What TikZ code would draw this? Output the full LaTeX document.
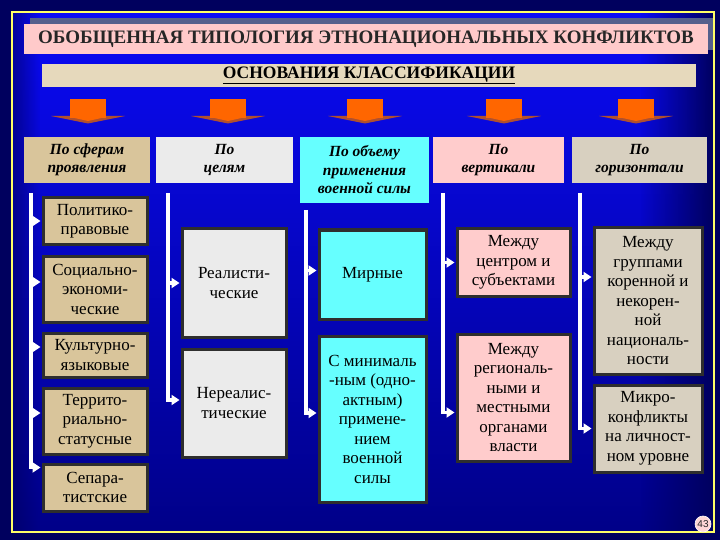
\documentclass[tikz,border=0pt]{standalone}
\usepackage{fontspec}
\setmainfont{Liberation Serif}
\setsansfont{Liberation Sans}
\usetikzlibrary{arrows.meta,fadings}
\definecolor{outerbg}{HTML}{00005E}
\definecolor{bgtop}{HTML}{0A0AF6}
\definecolor{bgmid}{HTML}{0000DC}
\definecolor{bgbot}{HTML}{000088}
\definecolor{frameyel}{HTML}{FFFF66}
\definecolor{titlepink}{HTML}{FFCACA}
\definecolor{barblue}{HTML}{55608C}
\definecolor{subbeige}{HTML}{E6D9BC}
\definecolor{tanbox}{HTML}{D9C59B}
\definecolor{graybox}{HTML}{EBEBEB}
\definecolor{cyanbox}{HTML}{66FFFF}
\definecolor{pinkbox}{HTML}{FFCCCC}
\definecolor{linenbox}{HTML}{D8D0C0}
\definecolor{boxborder}{HTML}{2E2E2E}
\definecolor{txtdark}{HTML}{262626}
\definecolor{arrorange}{HTML}{FF6600}
\definecolor{arrshadow}{HTML}{B0502E}
\tikzfading[name=fadeleftclear, left color=transparent!100, right color=transparent!0]
\tikzfading[name=faderightclear, left color=transparent!0, right color=transparent!100]
\begin{document}
\begin{tikzpicture}[x=1pt,y=-1pt,
  hdr/.style={inner sep=1pt, align=center, text=black,
    font=\fontsize{15.5}{18.5}\selectfont\bfseries\itshape},
  item/.style={draw=boxborder, line width=3pt, inner sep=1pt, align=center,
    text=black, font=\fontsize{17}{19.5}\selectfont},
  conn/.style={draw=white, line width=3.5pt,
    -{Triangle[length=8pt,width=10pt]}, shorten >=1pt}]
\useasboundingbox (0,0) rectangle (720,540);
% background
\fill[outerbg] (0,0) rectangle (720,540);
\shade[top color=bgtop, middle color=bgmid, bottom color=bgbot] (12,12) rectangle (714,532);
\fill[outerbg, path fading=fadeleftclear] (640,12) rectangle (714,532);
\fill[outerbg, opacity=0.6, path fading=faderightclear] (12,12) rectangle (40,532);
\draw[frameyel, line width=2pt] (12,12) rectangle (714,532);
% title
\fill[barblue] (30,18) rectangle (713,50);
\node[fill=titlepink, minimum width=684pt, minimum height=30pt, inner sep=0pt,
  text=txtdark, font=\fontsize{19}{22}\selectfont\bfseries] (title) at (366,39)
  {ОБОБЩЕННАЯ ТИПОЛОГИЯ ЭТНОНАЦИОНАЛЬНЫХ КОНФЛИКТОВ};
\node[fill=subbeige, minimum width=654pt, minimum height=23pt, inner sep=0pt,
  text=black, font=\fontsize{17.5}{20}\selectfont\bfseries] (sub) at (369,75.5)
  {\underline{ОСНОВАНИЯ КЛАССИФИКАЦИИ}};
% orange arrows
\foreach \cx in {88,228,365,504,636}{
  \fill[arrshadow] (\cx-37,116) -- (\cx+37,116) -- (\cx,123.5) -- cycle;
  \fill[arrorange] (\cx-18,99) rectangle (\cx+18,118);
  \fill[arrorange] (\cx-18,117) -- (\cx+18,117) -- (\cx,121) -- cycle;
}
% headers
\node[hdr, fill=tanbox, minimum width=126pt, minimum height=46pt] (h1) at (87,160) {По сферам\\проявления};
\node[hdr, fill=graybox, minimum width=137pt, minimum height=46pt] (h2) at (224.5,160) {По\\целям};
\node[hdr, fill=cyanbox, minimum width=129pt, minimum height=66pt] (h3) at (364.5,170) {По объему\\применения\\военной силы};
\node[hdr, fill=pinkbox, minimum width=131pt, minimum height=46pt] (h4) at (498.5,160) {По\\вертикали};
\node[hdr, fill=linenbox, minimum width=135pt, minimum height=46pt] (h5) at (639.5,160) {По\\горизонтали};
% column 1
\node[item, fill=tanbox, minimum width=104pt, minimum height=46pt] (b11) at (95,221) {Политико-\\правовые};
\node[item, fill=tanbox, minimum width=104pt, minimum height=66pt] (b12) at (95,289) {Социально-\\экономи-\\ческие};
\node[item, fill=tanbox, minimum width=104pt, minimum height=44pt] (b13) at (95,355) {Культурно-\\языковые};
\node[item, fill=tanbox, minimum width=104pt, minimum height=66pt] (b14) at (95,421) {Террито-\\риально-\\статусные};
\node[item, fill=tanbox, minimum width=104pt, minimum height=47pt] (b15) at (95,487.5) {Сепара-\\тистские};
% column 2
\node[item, fill=graybox, minimum width=104pt, minimum height=108pt] (b21) at (234,283) {Реалисти-\\ческие};
\node[item, fill=graybox, minimum width=104pt, minimum height=108pt] (b22) at (234,403) {Нереалис-\\тические};
% column 3
\node[item, fill=cyanbox, minimum width=107pt, minimum height=89pt] (b31) at (372.5,274.5) {Мирные};
\node[item, fill=cyanbox, minimum width=107pt, minimum height=166pt] (b32) at (372.5,419) {С минималь\\-ным (одно-\\актным)\\примене-\\нием\\военной\\силы};
% column 4
\node[item, fill=pinkbox, minimum width=113pt, minimum height=67pt] (b41) at (513.5,262.5) {Между\\центром и\\субъектами};
\node[item, fill=pinkbox, minimum width=113pt, minimum height=127pt] (b42) at (513.5,397.5) {Между\\региональ-\\ными и\\местными\\органами\\власти};
% column 5
\node[item, fill=linenbox, minimum width=108pt, minimum height=146pt] (b51) at (648,301) {Между\\группами\\коренной и\\некорен-\\ной\\националь-\\ности};
\node[item, fill=linenbox, minimum width=108pt, minimum height=87pt] (b52) at (648,428.5) {Микро-\\конфликты\\на личност-\\ном уровне};
% trunk tops
\coordinate (t1) at (31,193);
\coordinate (t2) at (168,193);
\coordinate (t3) at (306,210);
\coordinate (t4) at (443,193);
\coordinate (t5) at (580,193);
% arrow end points on box edges
\coordinate (e11) at (b11.west);
\coordinate (e12) at ([yshift=7pt]b12.west);
\coordinate (e13) at ([yshift=8pt]b13.west);
\coordinate (e14) at ([yshift=8pt]b14.west);
\coordinate (e15) at ([yshift=20pt]b15.west);
\coordinate (e21) at (b21.west);
\coordinate (e22) at ([yshift=3pt]b22.west);
\coordinate (e31) at ([yshift=4pt]b31.west);
\coordinate (e32) at ([yshift=6pt]b32.west);
\coordinate (e41) at (b41.west);
\coordinate (e42) at ([yshift=-15pt]b42.west);
\coordinate (e51) at ([yshift=24pt]b51.west);
\coordinate (e52) at (b52.west);
% connectors column 1
\draw[conn] (t1) |- (e15);
\foreach \e in {e11,e12,e13,e14}{\draw[conn] (t1 |- \e) -- (\e);}
% column 2
\draw[conn] (t2) |- (e22);
\draw[conn] (t2 |- e21) -- (e21);
% column 3
\draw[conn] (t3) |- (e32);
\draw[conn] (t3 |- e31) -- (e31);
% column 4
\draw[conn] (t4) |- (e42);
\draw[conn] (t4 |- e41) -- (e41);
% column 5
\draw[conn] (t5) |- (e52);
\draw[conn] (t5 |- e51) -- (e51);
% page number
\node[circle, fill=pinkbox!80!white, draw=white, line width=0.6pt, inner sep=0pt,
  minimum size=16pt, text=txtdark, font=\fontsize{10}{11}\selectfont\sffamily] (pg) at (703,524) {43};
\end{tikzpicture}
\end{document}
